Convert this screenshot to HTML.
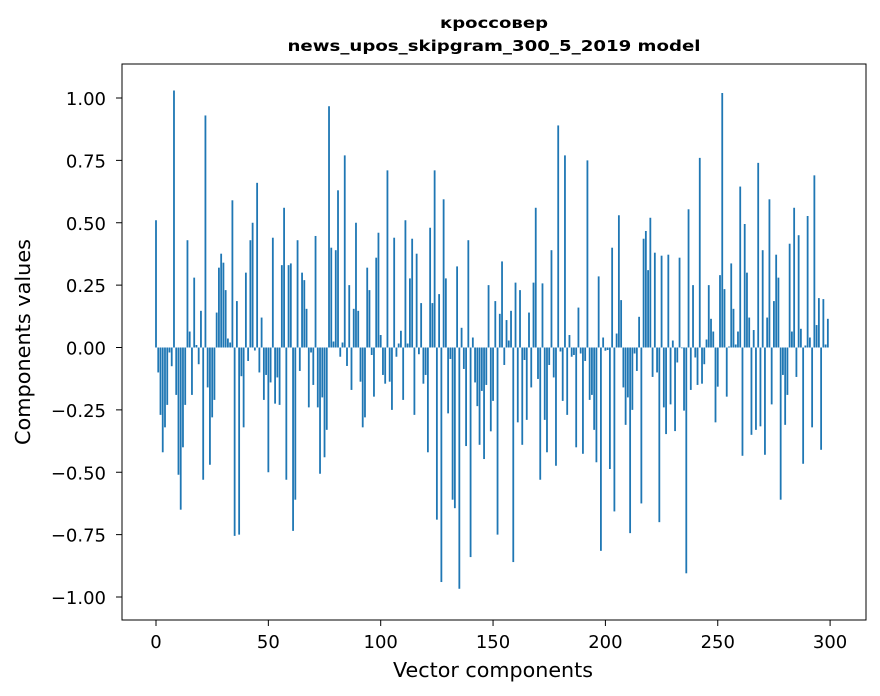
<!DOCTYPE html>
<html><head><meta charset="utf-8">
<style>
html,body{margin:0;padding:0;background:#fff;}
svg{display:block;font-family:"DejaVu Sans","Liberation Sans",sans-serif;}
</style></head>
<body>
<svg id="chart" width="880" height="696" viewBox="0 0 880 696" xmlns="http://www.w3.org/2000/svg">
<rect x="0" y="0" width="880" height="696" fill="#fff"/>
<text x="494" y="28" text-anchor="middle" font-size="15" font-weight="bold" textLength="108" lengthAdjust="spacingAndGlyphs">кроссовер</text>
<text x="494" y="51" text-anchor="middle" font-size="15" font-weight="bold" textLength="413" lengthAdjust="spacingAndGlyphs">news_upos_skipgram_300_5_2019 model</text>
<g id="bars"></g>
<g id="axes"></g>
<rect x="122" y="64" width="744" height="556" fill="none" stroke="#000" stroke-width="1"/>
<text x="493" y="677" text-anchor="middle" font-size="20" textLength="200" lengthAdjust="spacingAndGlyphs">Vector components</text>
<text x="30" y="342" text-anchor="middle" font-size="20" textLength="206" lengthAdjust="spacingAndGlyphs" transform="rotate(-90 30 342)">Components values</text>
</svg>
<script>
const values = [
0.51,-0.10,-0.27,-0.42,-0.32,-0.23,-0.02,-0.075,1.03,-0.19,
-0.51,-0.65,-0.40,-0.23,0.43,0.064,-0.19,0.28,0.01,-0.067,
0.147,-0.53,0.93,-0.16,-0.47,-0.28,-0.21,0.14,0.32,0.376,
0.34,0.23,0.036,0.02,0.59,-0.755,0.186,-0.75,-0.115,-0.32,
0.30,-0.054,0.43,0.50,-0.012,0.66,-0.10,0.12,-0.21,-0.11,
-0.50,-0.14,0.44,-0.225,-0.12,-0.23,0.33,0.56,-0.53,0.33,
0.337,-0.735,-0.61,0.43,-0.094,0.30,0.27,0.155,-0.24,-0.02,
-0.15,0.447,-0.24,-0.506,-0.20,-0.44,-0.33,0.967,0.40,0.024,
0.39,0.63,-0.037,0.02,0.77,-0.074,0.25,-0.17,0.155,0.50,
0.147,-0.137,-0.32,-0.28,0.32,0.23,-0.03,-0.197,0.36,0.46,
0.05,-0.11,-0.145,0.71,-0.137,-0.25,0.44,-0.037,0.016,0.067,
-0.21,0.51,0.016,0.277,0.436,-0.27,0.376,-0.027,0.178,-0.145,
-0.11,-0.42,0.48,0.178,0.71,-0.69,0.214,-0.94,0.594,0.277,
-0.264,-0.046,-0.61,-0.644,0.325,-0.967,0.079,-0.086,-0.395,0.43,
-0.84,0.04,-0.14,-0.235,-0.39,-0.174,-0.447,-0.15,0.25,-0.336,
-0.214,0.186,-0.75,0.135,0.345,-0.07,0.11,0.028,0.147,-0.86,
0.26,-0.30,0.23,-0.39,-0.05,-0.29,0.14,-0.16,0.26,0.56,
-0.126,-0.53,0.257,-0.29,-0.42,-0.07,0.39,-0.12,-0.474,0.89,
-0.016,-0.214,0.77,-0.27,0.05,-0.037,-0.03,-0.40,0.16,-0.024,
-0.426,-0.054,0.75,-0.21,-0.19,-0.33,-0.46,0.285,-0.815,0.04,
-0.013,-0.01,-0.487,0.40,-0.657,0.056,0.53,0.19,-0.16,-0.31,
-0.20,-0.744,-0.25,-0.024,-0.094,0.123,-0.625,0.436,0.467,0.31,
0.52,-0.118,0.38,-0.10,-0.70,0.368,-0.24,-0.347,0.372,-0.228,
0.028,-0.335,-0.06,0.36,-0.003,-0.253,-0.905,0.554,-0.17,0.25,
-0.04,-0.15,0.76,-0.145,-0.067,0.032,0.25,0.115,0.064,-0.30,
-0.157,0.29,1.02,0.234,-0.197,0.004,0.337,0.155,0.012,0.064,
0.645,-0.434,0.495,0.30,0.12,-0.35,0.07,-0.33,0.74,-0.316,
0.39,-0.43,0.12,0.594,-0.228,0.186,0.372,0.28,-0.61,-0.11,
-0.31,-0.19,0.416,0.064,0.56,-0.118,0.45,0.075,-0.466,0.008,
0.527,0.04,-0.32,0.69,0.09,0.198,-0.41,0.194,0.012,0.115
];
const xTicks = [0,50,100,150,200,250,300];
const yTicks = [-1.00,-0.75,-0.50,-0.25,0.00,0.25,0.50,0.75,1.00];

const NS = "http://www.w3.org/2000/svg";
function xScale(i){ return 156 + i * 2.247; }
function yScale(v){ return 347.5 - v * 249.5; }

const barsG = document.getElementById('bars');
values.forEach(function(v, i){
  const r = document.createElementNS(NS, 'rect');
  const y0 = yScale(0), y1 = yScale(v);
  r.setAttribute('x', (xScale(i) - 0.9).toFixed(2));
  r.setAttribute('y', Math.min(y0, y1).toFixed(2));
  r.setAttribute('width', '1.8');
  r.setAttribute('height', Math.max(0.3, Math.abs(y1 - y0)).toFixed(2));
  r.setAttribute('fill', '#1f77b4');
  
  
  barsG.appendChild(r);
});

const axesG = document.getElementById('axes');
xTicks.forEach(function(t){
  const x = xScale(t);
  const l = document.createElementNS(NS, 'line');
  l.setAttribute('x1', x); l.setAttribute('x2', x);
  l.setAttribute('y1', 620); l.setAttribute('y2', 626);
  l.setAttribute('stroke', '#000');
  
  
  axesG.appendChild(l);
  const tx = document.createElementNS(NS, 'text');
  tx.setAttribute('x', x); tx.setAttribute('y', 648);
  tx.setAttribute('text-anchor', 'middle');
  tx.setAttribute('font-size', '18');
  tx.textContent = String(t);
  
  
  axesG.appendChild(tx);
});
yTicks.forEach(function(t){
  const y = yScale(t);
  const l = document.createElementNS(NS, 'line');
  l.setAttribute('x1', 116); l.setAttribute('x2', 122);
  l.setAttribute('y1', y); l.setAttribute('y2', y);
  l.setAttribute('stroke', '#000');
  
  
  axesG.appendChild(l);
  const tx = document.createElementNS(NS, 'text');
  tx.setAttribute('x', 106); tx.setAttribute('y', y + 7);
  tx.setAttribute('text-anchor', 'end');
  tx.setAttribute('font-size', '18');
  tx.textContent = (t < 0 ? '\u2212' : '') + Math.abs(t).toFixed(2);
  
  
  axesG.appendChild(tx);
});
</script>
</body></html>
